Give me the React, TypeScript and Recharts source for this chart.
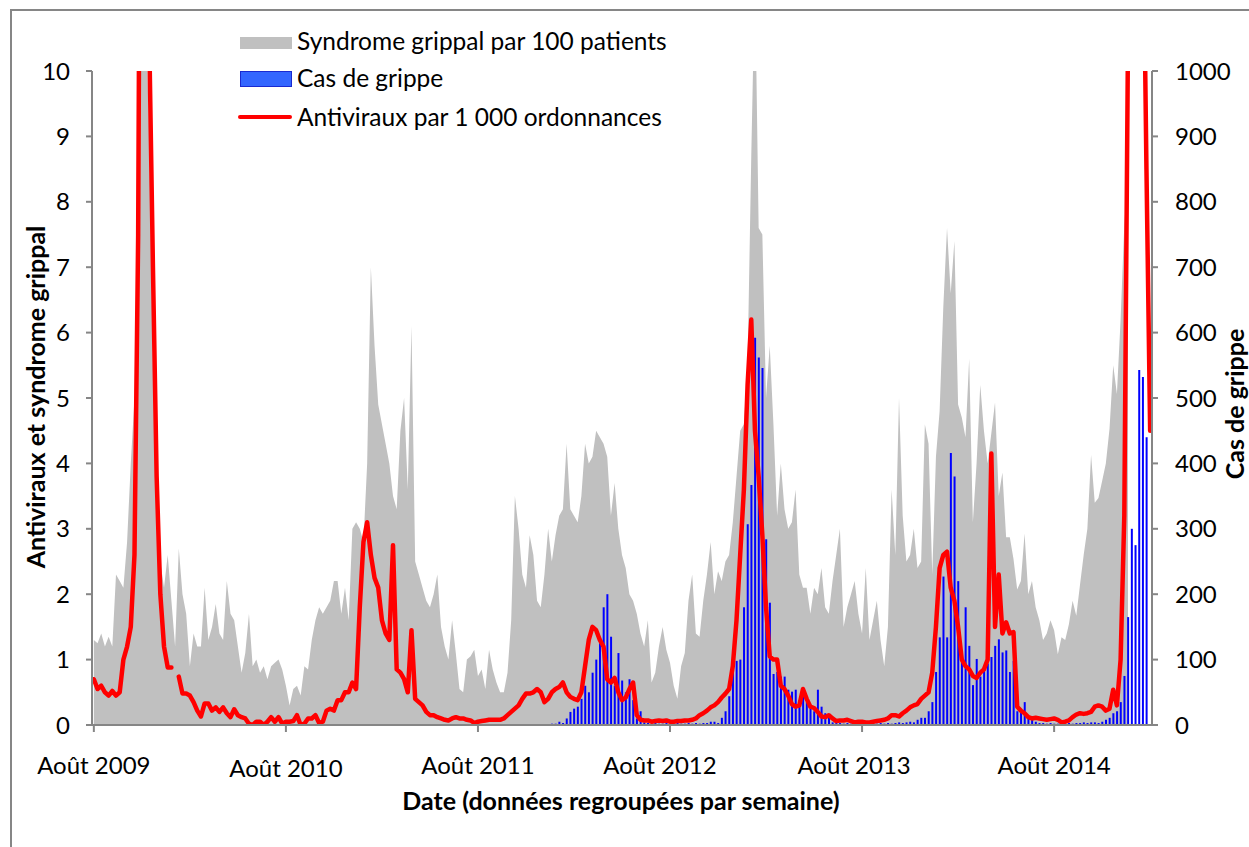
import React from 'react';
import { ComposedChart, Area, Bar, Line, XAxis, YAxis } from 'recharts';

// weekly values, week 0 = first week of August 2009
const syndromeGrippal = [
  1.3, 1.25, 1.4, 1.2, 1.35, 1.2, 2.3, 2.2, 2.1, 2.8, 4.0, 5.0, 8.5, 11, 11, 9.0, 5.5, 3.5, 2.5, 2.1,
  2.6, 1.9, 1.2, 2.7, 2.0, 1.7, 0.9, 1.4, 1.2, 1.2, 2.1, 1.3, 1.5, 1.85, 1.4, 1.3, 2.2, 1.7, 1.6, 1.2,
  0.8, 1.1, 1.7, 0.9, 1.0, 0.8, 0.9, 0.7, 0.9,
  0.95, 1.0, 0.85, 0.6, 0.3, 0.55, 0.6, 0.45, 0.9, 0.85, 1.3, 1.6, 1.8, 1.7, 1.8, 1.9, 2.2, 2.2, 1.7, 2.1,
  1.6, 3.0, 3.1, 3.0, 2.8, 4.0, 7.0, 5.8, 4.9, 4.6, 4.3, 4.0, 3.5, 3.3, 4.5, 5.0, 3.6, 6.1, 2.5, 2.3,
  2.1, 1.9, 1.8, 2.0, 2.3, 1.5, 1.2, 1.0,
  1.6, 1.1, 0.55, 0.5, 1.0, 1.05, 1.15, 0.75, 0.85, 0.55, 1.15, 0.85, 0.65, 0.5, 0.5, 0.8, 1.6, 3.5, 3.0, 2.3,
  2.1, 2.9, 2.6, 1.9, 1.8, 2.3, 3.0, 2.5, 2.9, 3.2, 3.3, 4.3, 3.3, 3.2, 3.1, 3.5, 4.3, 4.0, 4.1, 4.5,
  4.4, 4.3, 4.1, 3.2, 3.7, 3.0, 2.6, 2.4,
  2.0, 1.9, 1.7, 1.4, 1.2, 1.6, 0.65, 0.8, 1.2, 1.5, 1.15, 0.95, 0.6, 0.4, 0.9, 1.1, 1.9, 2.3, 1.4, 1.35,
  1.9, 2.3, 2.8, 2.0, 2.35, 2.2, 2.5, 2.6, 3.1, 3.8, 4.5, 4.6, 5.5, 8.7, 11.5, 7.6, 7.5, 5.0, 5.8, 4.6,
  3.2, 4.0, 3.3, 3.0, 3.1, 3.6, 2.3, 2.1,
  2.1, 1.7, 2.1, 2.0, 2.4, 1.8, 1.7, 2.2, 2.6, 3.0, 1.5, 1.8, 2.0, 2.2, 1.7, 1.4, 2.4, 1.3, 1.6, 1.9, 1.3,
  0.9, 1.5, 3.6, 2.6, 5.0, 3.2, 2.5, 2.6, 3.0, 2.4, 2.5, 4.6, 4.3, 2.3, 4.1, 4.8, 6.4, 7.6, 6.6, 7.4,
  4.9, 4.7, 4.4, 5.6, 3.1, 4.0, 5.2, 4.5, 4.0,
  4.46, 4.93, 3.5, 3.86, 2.87, 2.87, 2.54, 2.07, 2.2, 2.93, 2.0, 2.2, 1.8, 1.6, 1.3, 1.4, 1.6, 1.45, 1.08, 1.34,
  1.3, 1.54, 1.9, 1.67, 2.14, 2.6, 3.0, 4.13, 3.4, 3.47, 3.73, 4.0, 4.53, 5.5, 5.06, 6.2, 7.65, 8.5,
];

const antiviraux = [
  0.7, 0.55, 0.6, 0.5, 0.45, 0.52, 0.45, 0.5, 1.0, 1.2, 1.5, 2.6, 7.5, 20, 20, 10.5, 7, 3.8, 2.0, 1.2,
  0.88, 0.88, null, 0.74, 0.48, 0.48, 0.45, 0.35, 0.22, 0.13, 0.33, 0.33, 0.22, 0.27, 0.2, 0.27, 0.18, 0.12, 0.24, 0.15,
  0.12, 0.1, 0.02, 0.0, 0.05, 0.05, 0.0, 0.05, 0.12,
  0.05, 0.12, 0.02, 0.05, 0.05, 0.06, 0.15, 0.0, 0.02, 0.1, 0.1, 0.15, 0.03, 0.05, 0.22, 0.25, 0.22, 0.38, 0.38, 0.5,
  0.5, 0.65, 0.55, 1.8, 2.8, 3.1, 2.6, 2.25, 2.1, 1.6, 1.4, 1.3, 2.75, 0.85, 0.8, 0.7, 0.5, 1.45, 0.4, 0.35,
  0.3, 0.2, 0.15, 0.15, 0.12, 0.1, 0.08, 0.07,
  0.1, 0.12, 0.1, 0.1, 0.08, 0.07, 0.03, 0.05, 0.06, 0.07, 0.08, 0.08, 0.08, 0.08, 0.1, 0.15, 0.2, 0.25, 0.3, 0.4,
  0.48, 0.48, 0.5, 0.55, 0.5, 0.35, 0.4, 0.5, 0.55, 0.58, 0.65, 0.5, 0.43, 0.4, 0.38, 0.5, 0.9, 1.3, 1.5, 1.45,
  1.3, 1.2, 0.7, 0.65, 0.72, 0.5, 0.38, 0.42,
  0.55, 0.65, 0.15, 0.08, 0.07, 0.07, 0.05, 0.06, 0.07, 0.06, 0.07, 0.05, 0.05, 0.06, 0.06, 0.07, 0.07, 0.08, 0.1, 0.15,
  0.18, 0.22, 0.27, 0.3, 0.35, 0.42, 0.48, 0.55, 0.9, 1.6, 2.6, 3.6, 5.2, 6.2, 4.5, 3.8, 2.9, 1.8, 1.05, 1.0,
  1.0, 0.6, 0.55, 0.45, 0.32, 0.28, 0.3, 0.55,
  0.4, 0.28, 0.26, 0.2, 0.13, 0.12, 0.15, 0.1, 0.06, 0.07, 0.07, 0.08, 0.06, 0.04, 0.05, 0.05, 0.04, 0.04, 0.05, 0.06,
  0.07, 0.08, 0.1, 0.15, 0.15, 0.13, 0.18, 0.22, 0.27, 0.3, 0.32, 0.4, 0.45, 0.5, 0.8, 1.5, 2.4, 2.6, 2.65, 2.1,
  1.9, 1.5, 1.0, 0.9, 0.85, 0.75, 0.72, 0.8, 0.85, 1.0, 4.15,
  1.5, 2.3, 1.4, 1.57, 1.4, 1.42, 0.28, 0.22, 0.18, 0.12, 0.1, 0.11, 0.1, 0.09, 0.08, 0.09, 0.1, 0.08, 0.04, 0.05,
  0.07, 0.12, 0.16, 0.18, 0.17, 0.18, 0.2, 0.28, 0.3, 0.28, 0.22, 0.25, 0.54, 0.3, 1.0, 3.2, 10.5, 20, 20, 20,
  13, 8.5, 4.5,
];

// lab-confirmed cases start being reported in week 119 (Nov 2011)
const casStartWeek = 119;
const casGrippe = [
  1, 1, 0, 1, 1, 2, 2, 5, 3, 10,
  20, 25, 28, 40, 60, 50, 80, 100, 125, 180,
  200, 135, 60, 110, 68, 50, 70, 38, 10, 21,
  4, 3, 2, 3, 2, 2, 3, 2, 2, 3,
  2, 2, 3, 2, 3, 2, 3, 3, 5, 5,
  3, 11, 21, 44, 80, 98, 100, 180, 307, 367,
  592, 562, 546, 284, 187, 78, 81, 74, 74, 54,
  51, 54, 38, 48, 35, 28, 21, 54, 28, 18,
  15, 4, 3, 3, 2, 3, 2, 2, 3, 2,
  2, 3, 2, 2, 3, 2, 3, 2, 3, 4,
  3, 4, 5, 4, 8, 11, 11, 21, 35, 81,
  134, 227, 134, 416, 380, 220, 108, 180, 121, 61,
  101, 74, 84, 94, 104, 121, 131, 111, 114, 81,
  98, 21, 21, 35, 11, 8, 5, 3, 3, 2,
  3, 2, 2, 3, 2, 3, 2, 3, 3, 4,
  3, 4, 4, 3, 5, 8, 11, 18, 21, 35,
  75, 165, 300, 275, 543, 532, 440,
];

const xTickWeeks = [0, 52, 104, 156, 208, 260];
const xTickLabels = ['Août 2009', 'Août 2010', 'Août 2011', 'Août 2012', 'Août 2013', 'Août 2014'];
const leftTicks = [0, 1, 2, 3, 4, 5, 6, 7, 8, 9, 10];
const rightTicks = [0, 100, 200, 300, 400, 500, 600, 700, 800, 900, 1000];

const data = antiviraux.map((value, week) => ({
  week,
  syndrome: week < syndromeGrippal.length ? syndromeGrippal[week] : null,
  antiviraux: value,
  cas:
    week >= casStartWeek && week - casStartWeek < casGrippe.length
      ? casGrippe[week - casStartWeek]
      : null,
}));

const FONT = 'Lato, "DejaVu Sans", sans-serif';
const AXIS_GREY = '#868686';

// excel left the date labels slightly off their ticks
const labelNudge: Record<number, { dx: number; dy: number }> = {
  52: { dx: 0, dy: 3 },
  156: { dx: -10, dy: 0 },
  208: { dx: -8, dy: 0 },
};

const DateTick = (props: any) => {
  const { x, y, payload } = props;
  const n = labelNudge[payload.value] || { dx: 0, dy: 0 };
  const label = xTickLabels[xTickWeeks.indexOf(payload.value)];
  return (
    <text
      x={x + n.dx}
      y={y + n.dy}
      dy="0.71em"
      textAnchor="middle"
      fill="#000"
      fontSize={24}
      fontFamily={FONT}
    >
      {label}
    </text>
  );
};

const legendText: React.CSSProperties = {
  position: 'absolute',
  left: 297,
  fontSize: 24.5,
  lineHeight: '28px',
  color: '#000',
  whiteSpace: 'nowrap',
};

const axisTitle: React.CSSProperties = {
  position: 'absolute',
  fontSize: 25,
  fontWeight: 700,
  color: '#000',
  whiteSpace: 'nowrap',
  lineHeight: '25px',
};

export default function App() {
  return (
    <div
      style={{
        position: 'absolute',
        left: 0,
        top: 0,
        width: 1249,
        height: 847,
        overflow: 'hidden',
        background: '#fff',
        fontFamily: FONT,
      }}
    >
      <div
        style={{
          position: 'absolute',
          left: 10,
          top: 9,
          width: 1300,
          height: 900,
          borderLeft: `2px solid ${AXIS_GREY}`,
          borderTop: `2px solid ${AXIS_GREY}`,
        }}
      />
      <ComposedChart
        width={1249}
        height={847}
        data={data}
        margin={{ top: 71, right: 17, bottom: 62, left: 0 }}
      >
        <XAxis
          dataKey="week"
          type="category"
          ticks={xTickWeeks}
          interval={0}
          tick={DateTick}
          tickSize={7}
          tickMargin={25}
          height={60}
          axisLine={{ stroke: AXIS_GREY, strokeWidth: 2 }}
          tickLine={{ stroke: AXIS_GREY, strokeWidth: 2 }}
        />
        <YAxis
          yAxisId="left"
          domain={[0, 10]}
          ticks={leftTicks}
          allowDataOverflow
          width={92}
          tickSize={6}
          tickMargin={16}
          tick={{ fill: '#000', fontSize: 24, fontFamily: FONT }}
          axisLine={{ stroke: AXIS_GREY, strokeWidth: 2 }}
          tickLine={{ stroke: AXIS_GREY, strokeWidth: 2 }}
        />
        <YAxis
          yAxisId="right"
          orientation="right"
          domain={[0, 1000]}
          ticks={rightTicks}
          width={80}
          tickSize={6}
          tickMargin={17}
          tick={{ fill: '#000', fontSize: 24, fontFamily: FONT, textAnchor: 'start' }}
          axisLine={{ stroke: AXIS_GREY, strokeWidth: 2 }}
          tickLine={{ stroke: AXIS_GREY, strokeWidth: 2 }}
        />
        <Area
          yAxisId="left"
          dataKey="syndrome"
          type="linear"
          fill="#c0c0c0"
          fillOpacity={1}
          stroke="none"
          isAnimationActive={false}
        />
        <Bar yAxisId="right" dataKey="cas" fill="#0000ff" barSize={2} isAnimationActive={false} />
        <Line
          yAxisId="left"
          dataKey="antiviraux"
          type="linear"
          stroke="#ff0000"
          strokeWidth={4.5}
          strokeLinejoin="round"
          strokeLinecap="round"
          dot={false}
          activeDot={false}
          isAnimationActive={false}
        />
      </ComposedChart>

      {/* legend */}
      <div style={{ position: 'absolute', left: 240, top: 37, width: 52, height: 12, background: '#c0c0c0' }} />
      <div style={{ ...legendText, top: 27 }}>Syndrome grippal par 100 patients</div>
      <div
        style={{
          position: 'absolute',
          left: 240,
          top: 71,
          width: 50,
          height: 14,
          background: '#3366ff',
          border: '1px solid #1a2ad0',
        }}
      />
      <div style={{ ...legendText, top: 64 }}>Cas de grippe</div>
      <div
        style={{
          position: 'absolute',
          left: 238,
          top: 115,
          width: 54,
          height: 4,
          borderRadius: 2,
          background: '#ff0000',
        }}
      />
      <div style={{ ...legendText, top: 103 }}>Antiviraux par 1 000 ordonnances</div>

      {/* axis titles */}
      <div style={{ ...axisTitle, left: 35, top: 397, transform: 'translate(-50%, -50%) rotate(-90deg)' }}>
        Antiviraux et syndrome grippal
      </div>
      <div style={{ ...axisTitle, left: 1234, top: 404, transform: 'translate(-50%, -50%) rotate(-90deg)' }}>
        Cas de grippe
      </div>
      <div style={{ ...axisTitle, left: 621, top: 800, transform: 'translate(-50%, -50%)' }}>
        Date (données regroupées par semaine)
      </div>
    </div>
  );
}
